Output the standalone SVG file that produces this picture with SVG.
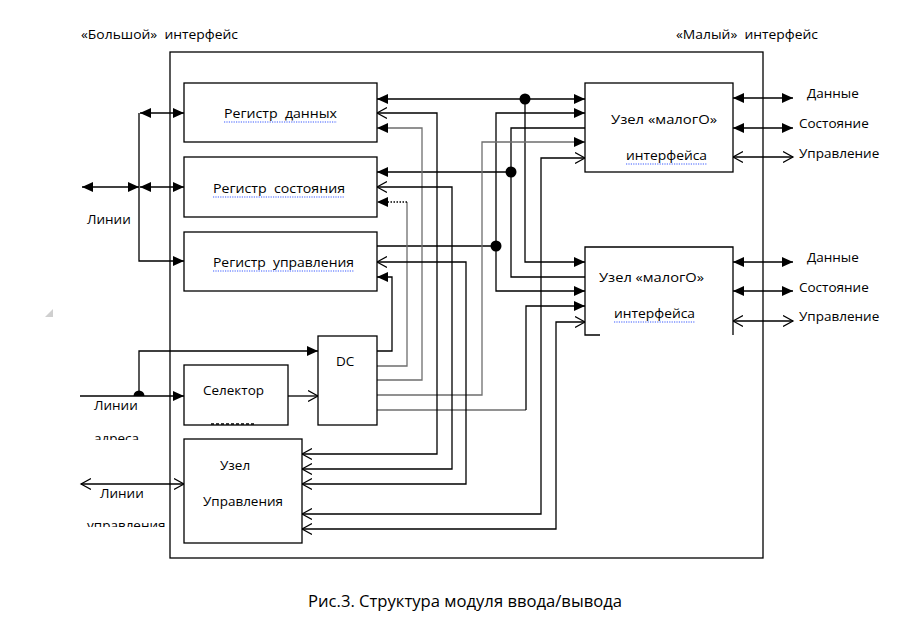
<svg xmlns="http://www.w3.org/2000/svg" width="902" height="622" viewBox="0 0 902 622">
<style>
.box{fill:#fff;stroke:#000;stroke-width:1.3}
.ln{fill:none;stroke:#000;stroke-width:1.3}
.gl{fill:none;stroke:#6e6e6e;stroke-width:1.3}
.t{font-family:"Open Sans","DejaVu Sans",sans-serif;font-size:13.5px;fill:#000}
.sp{fill:none;stroke:#3a5bff;stroke-width:1.2;stroke-dasharray:1.2,1.2}
.dot{fill:#000}
</style>
<defs>
<marker id="fa" markerUnits="userSpaceOnUse" markerWidth="11" markerHeight="11" refX="10" refY="5" orient="auto-start-reverse" viewBox="0 0 10 10"><path d="M0,0.5 L10,5 L0,9.5 z" fill="#000"/></marker>
<marker id="oa" markerUnits="userSpaceOnUse" markerWidth="12" markerHeight="12" refX="10" refY="6" orient="auto-start-reverse" viewBox="0 0 12 12"><path d="M0,0.5 L10,6 L0,11.5" fill="none" stroke="#000" stroke-width="1.2"/></marker>
<clipPath id="c1"><rect x="80" y="420" width="80" height="20"/></clipPath>
<clipPath id="c2"><rect x="80" y="510" width="90" height="17"/></clipPath>
</defs>

<polygon points="53,309 53,317 45,317" fill="#cfcfcf"/>

<g id="frame">
<rect x="170" y="52" width="593" height="506" fill="none" stroke="#000" stroke-width="1.3"/>
<text class="t" x="81" y="39" textLength="157" lengthAdjust="spacingAndGlyphs">«Большой»&#160;&#160;интерфейс</text>
<text class="t" x="676" y="39" textLength="142" lengthAdjust="spacingAndGlyphs">«Малый»&#160;&#160;интерфейс</text>
</g>

<g id="connectors">
<path class="ln" d="M377,99 H585" marker-start="url(#fa)" marker-end="url(#fa)"/>
<path class="ln" d="M525,99 V262 H585" marker-end="url(#fa)"/>
<path class="ln" d="M585,128 H511 V277 H585"/>
<path class="ln" d="M511,172 H377" marker-end="url(#fa)"/>
<path class="ln" d="M377,246 H496"/>
<path class="ln" d="M496,246 V113 H585" marker-end="url(#fa)"/>
<path class="ln" d="M496,246 V291 H585" marker-end="url(#fa)"/>
<path class="ln" d="M377,351 H392 V277 H377" marker-end="url(#fa)"/>
<path class="gl" d="M377,366 H407 V202"/>
<path class="ln" d="M407,202 H377" stroke-dasharray="1.5,1.5" marker-end="url(#fa)"/>
<path class="gl" d="M377,380 H422 V128 H377" marker-end="url(#fa)"/>
<path class="gl" d="M377,395 H482 V142 H585" marker-end="url(#fa)"/>
<path class="gl" d="M377,410 H526"/>
<path class="ln" d="M526,410 V306 H585" marker-end="url(#fa)"/>
<path class="ln" d="M377,113 H437 V454 H302" marker-start="url(#oa)" marker-end="url(#oa)"/>
<path class="ln" d="M377,187 H452 V469 H302" marker-start="url(#oa)" marker-end="url(#oa)"/>
<path class="ln" d="M377,262 H466 V484 H302" marker-start="url(#oa)" marker-end="url(#oa)"/>
<path class="ln" d="M585,158 H541 V514 H302" marker-start="url(#oa)" marker-end="url(#oa)"/>
<path class="ln" d="M585,322 H556 V529 H302" marker-start="url(#oa)" marker-end="url(#oa)"/>
<path class="ln" d="M82,187 H139" marker-start="url(#fa)" marker-end="url(#fa)"/>
<path class="ln" d="M140,187 H184" marker-start="url(#fa)" marker-end="url(#fa)"/>
<path class="ln" d="M140,113 H184" marker-start="url(#fa)" marker-end="url(#fa)"/>
<path class="ln" d="M139,113 V261 H184" marker-end="url(#fa)"/>
<path class="ln" d="M80,396 H184" marker-end="url(#fa)"/>
<path class="ln" d="M139,396 V351 H318" marker-end="url(#fa)"/>
<path d="M133.5,396 A5.5,5.5 0 0 1 144.5,396 z" class="dot"/>
<path class="ln" d="M288,396 H318" marker-end="url(#oa)"/>
<path class="ln" d="M81,484 H184" marker-start="url(#oa)" marker-end="url(#oa)"/>
<path class="ln" d="M733,98 H793" marker-start="url(#fa)" marker-end="url(#fa)"/>
<path class="ln" d="M733,128 H793" marker-start="url(#fa)" marker-end="url(#fa)"/>
<path class="ln" d="M733,157 H793" marker-start="url(#oa)" marker-end="url(#oa)"/>
<path class="ln" d="M733,262 H793" marker-start="url(#fa)" marker-end="url(#fa)"/>
<path class="ln" d="M733,291 H793" marker-start="url(#fa)" marker-end="url(#fa)"/>
<path class="ln" d="M733,321 H793" marker-start="url(#oa)" marker-end="url(#oa)"/>
<circle class="dot" cx="525" cy="99" r="5.5"/>
<circle class="dot" cx="511" cy="172" r="5.5"/>
<circle class="dot" cx="496" cy="246" r="5.5"/>
</g>

<g id="reg-data">
<rect class="box" x="184" y="83" width="193" height="59"/>
<text class="t" x="224" y="118" textLength="113" lengthAdjust="spacingAndGlyphs">Регистр&#160;&#160;данных</text>
<line class="sp" x1="224" y1="122" x2="337" y2="122"/>
</g>
<g id="reg-status">
<rect class="box" x="184" y="157" width="193" height="60"/>
<text class="t" x="213" y="193" textLength="132" lengthAdjust="spacingAndGlyphs">Регистр&#160;&#160;состояния</text>
<line class="sp" x1="213" y1="197" x2="345" y2="197"/>
</g>
<g id="reg-control">
<rect class="box" x="184" y="232" width="193" height="59"/>
<text class="t" x="213" y="267" textLength="141" lengthAdjust="spacingAndGlyphs">Регистр&#160;&#160;управления</text>
<line class="sp" x1="213" y1="271" x2="354" y2="271"/>
</g>

<g id="node-small-1">
<rect class="box" x="585" y="83" width="148" height="89"/>
<text class="t" x="611" y="124" textLength="106" lengthAdjust="spacingAndGlyphs">Узел «малогО»</text>
<text class="t" x="626" y="160" textLength="81" lengthAdjust="spacingAndGlyphs">интерфейса</text>
<line class="sp" x1="626" y1="164" x2="707" y2="164"/>
</g>
<g id="node-small-2">
<path d="M600,335 H585 V247 H733 V335" fill="#fff" stroke="#000" stroke-width="1.3"/>
<text class="t" x="599" y="282" textLength="105" lengthAdjust="spacingAndGlyphs">Узел «малогО»</text>
<text class="t" x="614" y="318" textLength="81" lengthAdjust="spacingAndGlyphs">интерфейса</text>
<line class="sp" x1="614" y1="322" x2="695" y2="322"/>
</g>

<g id="labels-right">
<text class="t" x="807" y="98">Данные</text>
<text class="t" x="799" y="128">Состояние</text>
<text class="t" x="799" y="158">Управление</text>
<text class="t" x="807" y="262">Данные</text>
<text class="t" x="799" y="292">Состояние</text>
<text class="t" x="799" y="321">Управление</text>
</g>

<g id="labels-left">
<text class="t" x="87" y="224">Линии</text>
<text class="t" x="94" y="410">Линии</text>
<text class="t" x="94" y="443" clip-path="url(#c1)">адреса</text>
<text class="t" x="100" y="498">Линии</text>
<text class="t" x="87" y="530" clip-path="url(#c2)">управления</text>
</g>

<g id="dc">
<rect class="box" x="318" y="336" width="59" height="89"/>
<text class="t" x="336" y="366">DC</text>
</g>
<g id="selector">
<rect class="box" x="184" y="365" width="104" height="60"/>
<text class="t" x="203" y="395" textLength="61" lengthAdjust="spacingAndGlyphs">Селектор</text>
<line x1="211" y1="424" x2="255" y2="424" stroke="#000" stroke-width="1.5" stroke-dasharray="3,2"/>
</g>
<g id="control-node">
<rect class="box" x="184" y="439" width="118" height="104"/>
<text class="t" x="220" y="470">Узел</text>
<text class="t" x="203" y="506" textLength="80" lengthAdjust="spacingAndGlyphs">Управления</text>
</g>

<text x="308" y="607" font-family="'Open Sans','DejaVu Sans',sans-serif" font-size="16" textLength="314" lengthAdjust="spacingAndGlyphs" fill="#000">Рис.3. Структура модуля ввода/вывода</text>
</svg>
